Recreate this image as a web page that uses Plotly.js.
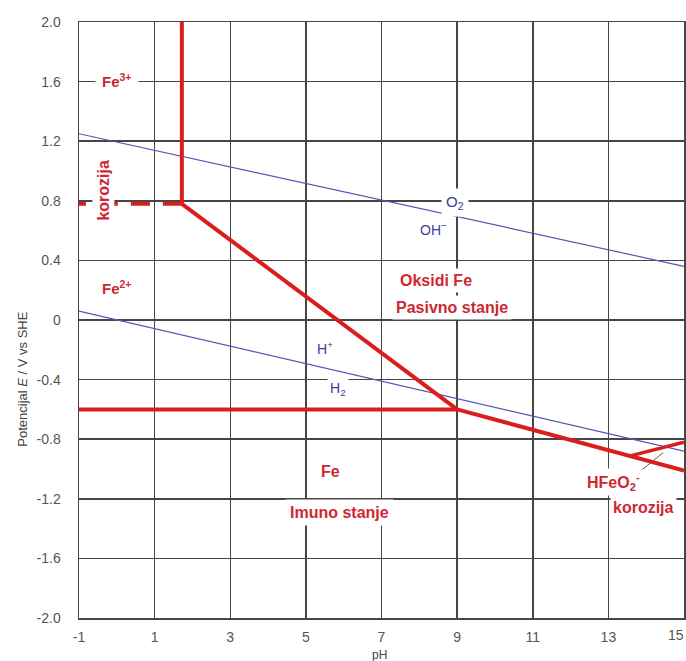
<!DOCTYPE html>
<html>
<head>
<meta charset="utf-8">
<script src="https://cdn.plot.ly/plotly-3.0.1.min.js"></script>
<style>html,body{margin:0;padding:0;background:#fff;}#chart{width:686px;height:661px;}</style>
</head>
<body>
<div id="chart"></div>
<script>
// Tick labels
var xTicks = [-1, 1, 3, 5, 7, 9, 11, 13, 15];
var xTickText = ['-1', '1', '3', '5', '7', '9', '11', '13', ''];
var lastXTick = '15';
var yTicks = [-2.0, -1.6, -1.2, -0.8, -0.4, 0, 0.4, 0.8, 1.2, 1.6, 2.0];
var yTickText = ['-2.0', '-1.6', '-1.2', '-0.8', '-0.4', '0', '0.4', '0.8', '1.2', '1.6', '2.0'];

// Water stability lines (blue)
var o2pH = [-1, 15];
var o2E = [1.25, 0.36];
var h2pH = [-1, 15];
var h2E = [0.06, -0.88];

// Iron boundaries (red)
var fe3VertPH = [1.72, 1.72];
var fe3VertE = [2.0, 0.78];
var fe3fe2PH = [1.72, -1];
var fe3fe2E = [0.78, 0.78];
var oxideDiagPH = [1.72, 9];
var oxideDiagE = [0.78, -0.6];
var feImmunePH = [-1, 9];
var feImmuneE = [-0.6, -0.6];
var feOxidePH = [9, 15];
var feOxideE = [-0.6, -1.01];
var hfeo2PH = [13.6, 15];
var hfeo2E = [-0.91, -0.82];
var leaderPH = [13.72, 14.45];
var leaderE = [-1.04, -0.89];

var red = 'rgb(218,30,30)';
var blue = 'rgb(85,85,185)';
var textRed = 'rgb(205,40,50)';
var textBlue = 'rgb(60,60,150)';
var fontFam = 'Liberation Sans, Arial, sans-serif';

function line(x, y, color, width, dash) {
  return {x: x, y: y, mode: 'lines', type: 'scatter', hoverinfo: 'skip',
    line: {color: color, width: width, dash: dash || 'solid'}, showlegend: false};
}

var traces = [
  line(o2pH, o2E, blue, 1.2),
  line(h2pH, h2E, blue, 1.2),
  line(leaderPH, leaderE, 'rgb(90,90,90)', 1),
  line(fe3VertPH, fe3VertE, red, 4),
  line(fe3fe2PH, fe3fe2E, red, 4, '19px,13px'),
  line(oxideDiagPH, oxideDiagE, red, 4),
  line(feImmunePH, feImmuneE, red, 4),
  line(feOxidePH, feOxideE, red, 4),
  line(hfeo2PH, hfeo2E, red, 3.5)
];

function lab(x, y, text, color, size, extra) {
  var a = {x: x, y: y, xref: 'x', yref: 'y', text: text, showarrow: false,
    xanchor: 'center', yanchor: 'middle',
    font: {family: fontFam, size: size, color: color},
    bgcolor: '#ffffff', borderpad: 3};
  for (var k in extra) a[k] = extra[k];
  return a;
}

var annotations = [
  lab(0.0, 1.61, '<b>Fe<sup>3+</sup></b>', textRed, 15, {borderpad: 6}),
  lab(-0.36, 0.87, '<b>korozija</b>', textRed, 16, {textangle: -90, borderpad: 2}),
  lab(0.0, 0.22, '<b>Fe<sup>2+</sup></b>', textRed, 15),
  lab(8.95, 0.79, 'O<sub>2</sub>', textBlue, 15, {borderpad: 4}),
  lab(8.37, 0.61, 'OH<sup>−</sup>', textBlue, 14, {borderpad: 2}),
  lab(8.44, 0.268, '<b>Oksidi Fe</b>', textRed, 16, {borderpad: 3}),
  lab(8.87, 0.087, '<b>Pasivno stanje</b>', textRed, 16, {borderpad: 3}),
  lab(5.5, -0.19, 'H<sup>+</sup>', textBlue, 14, {bgcolor: 'rgba(0,0,0,0)'}),
  lab(5.85, -0.46, 'H<sub>2</sub>', textBlue, 14, {borderpad: 2}),
  lab(5.64, -1.02, '<b>Fe</b>', textRed, 16, {bgcolor: 'rgba(0,0,0,0)'}),
  lab(5.9, -1.295, '<b>Imuno stanje</b>', textRed, 16, {borderpad: 4}),
  lab(13.13, -1.09, '<b>HFeO<sub>2</sub><sup>-</sup></b>', textRed, 16, {borderpad: 2}),
  lab(13.92, -1.255, '<b>korozija</b>', textRed, 16, {borderpad: 2}),
  {xref: 'paper', yref: 'paper', x: -0.094, y: 0.40, xanchor: 'center', yanchor: 'middle',
    showarrow: false, textangle: -90,
    text: 'Potencijal <i>E</i> / V vs SHE', font: {family: fontFam, size: 13, color: '#444'}},
  {xref: 'paper', yref: 'paper', x: 0.497, y: -0.062, xanchor: 'center', yanchor: 'middle',
    showarrow: false, text: 'pH', font: {family: fontFam, size: 12, color: '#444'}},
  {xref: 'paper', yref: 'paper', x: 1, y: -0.029, xanchor: 'right', yanchor: 'middle', xshift: 2,
    showarrow: false, text: lastXTick, font: {family: fontFam, size: 14, color: '#555'}}
];

var gridColor = 'rgb(70,70,70)';
var layout = {
  width: 686, height: 661,
  margin: {l: 79, r: 2, t: 22, b: 43},
  paper_bgcolor: '#ffffff', plot_bgcolor: '#ffffff',
  showlegend: false,
  xaxis: {range: [-1, 15], tickvals: xTicks, ticktext: xTickText,
    showgrid: true, gridcolor: gridColor, gridwidth: 1.5, zeroline: false,
    showline: true, linecolor: gridColor, linewidth: 1.5, mirror: true,
    ticks: '', ticklabelstandoff: 6,
    tickfont: {family: fontFam, size: 14, color: '#555'}},
  yaxis: {range: [-2, 2], tickvals: yTicks, ticktext: yTickText,
    showgrid: true, gridcolor: gridColor, gridwidth: 1.5, zeroline: false,
    showline: true, linecolor: gridColor, linewidth: 1.5, mirror: true,
    ticks: '', ticklabelstandoff: 14,
    tickfont: {family: fontFam, size: 14, color: '#555'}},
  annotations: annotations
};

Plotly.newPlot('chart', traces, layout, {displayModeBar: false, staticPlot: true});
</script>
</body>
</html>
